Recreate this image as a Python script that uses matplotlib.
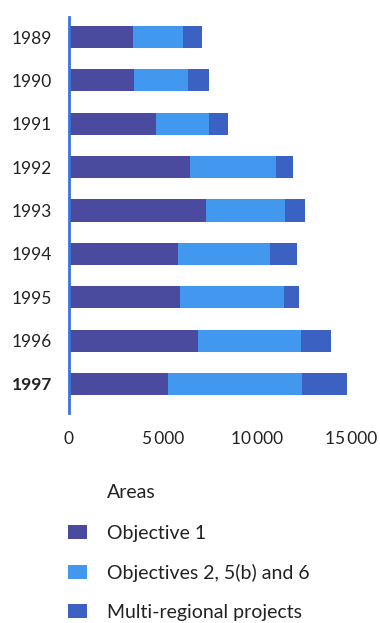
import numpy as np
import matplotlib.pyplot as plt
from matplotlib.patches import Patch

plt.rcParams['font.family'] = ['Lato', 'DejaVu Sans']

years = ['1989', '1990', '1991', '1992', '1993', '1994', '1995', '1996', '1997']
objective1 = [3400, 3500, 4640, 6430, 7300, 5810, 5930, 6870, 5280]
objectives_2_5b_6 = [2700, 2830, 2820, 4610, 4220, 4910, 5530, 5500, 7140]
multi_regional = [1000, 1150, 1040, 870, 1060, 1420, 810, 1560, 2380]

series_names = ['Objective 1', 'Objectives 2, 5(b) and 6', 'Multi-regional projects']
colors = ['#4a4a9e', '#4298ee', '#3b62c2']
x_ticks = [0, 5000, 10000, 15000]
x_tick_labels = ['0', '5\u2009000', '10\u2009000', '15\u2009000']

fig = plt.figure(figsize=(3.8, 6.23), dpi=100)
ax = fig.add_axes([0.1808, 0.337, 0.742, 0.6356])

pos = np.arange(len(years))
left = np.zeros(len(years))
for vals, col in zip([objective1, objectives_2_5b_6, multi_regional], colors):
    ax.barh(pos, vals, left=left, height=0.51, color=col, edgecolor='none')
    left = left + np.array(vals)

ax.set_xlim(0, 15000)
ax.set_ylim(8.67, -0.46)
ax.set_yticks(pos)
ax.set_yticklabels(years, fontsize=12.5, color='#222222')
ax.get_yticklabels()[-1].set_fontweight('bold')
ax.set_xticks(x_ticks)
ax.set_xticklabels(x_tick_labels, fontsize=12.5, color='#222222')
ax.tick_params(axis='y', length=0, pad=12)
ax.tick_params(axis='x', length=0, pad=13)

for s in ['top', 'right', 'bottom']:
    ax.spines[s].set_visible(False)
ax.spines['left'].set_color('#3b73e0')
ax.spines['left'].set_linewidth(2)

# legend below the chart
fig.text(107 / 380, 1 - 492 / 623, 'Areas', fontsize=14, color='#222222', va='center', ha='left')
handles = [Patch(facecolor=c, edgecolor='none') for c in colors]
fig.legend(handles, series_names, loc='upper left', bbox_to_anchor=(68 / 380, 1 - 525 / 623),
           frameon=False, fontsize=14, borderpad=0, borderaxespad=0,
           handlelength=0.98, handleheight=0.77, handletextpad=1.03, labelspacing=1.12,
           labelcolor='#222222')

plt.savefig('out.png', dpi=100)
plt.close()
